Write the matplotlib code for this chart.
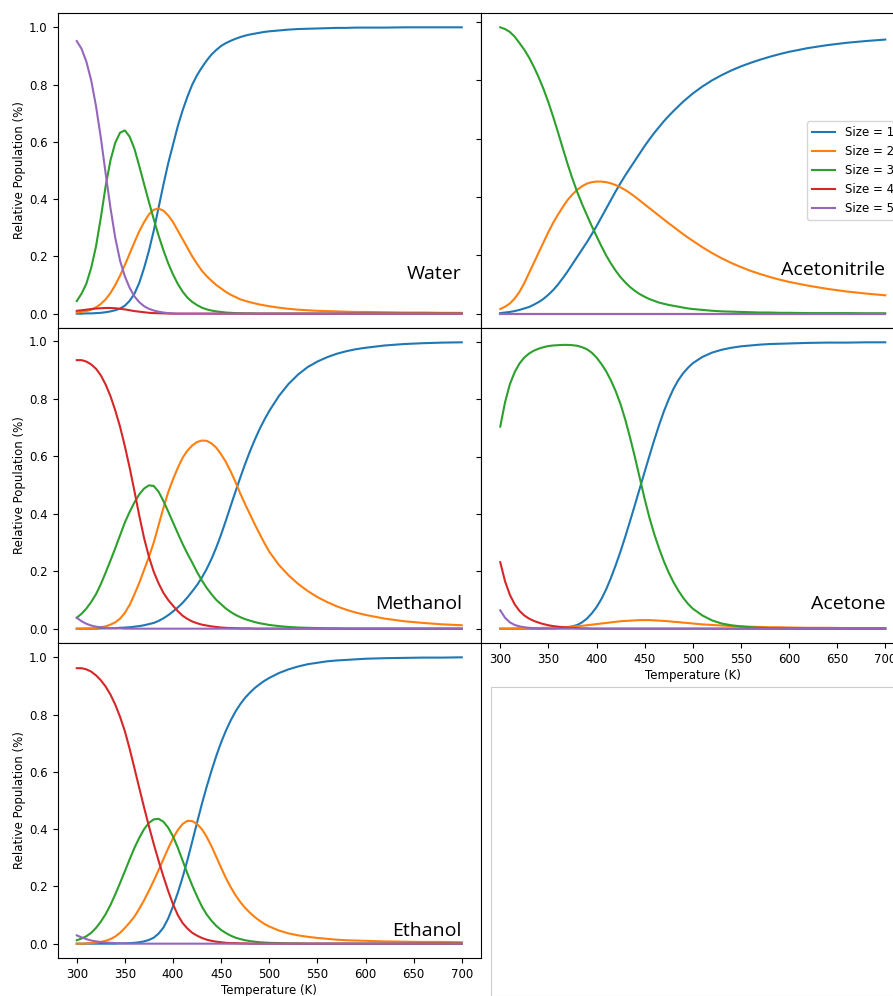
import matplotlib
matplotlib.use("Agg")
import matplotlib.pyplot as plt
from matplotlib.patches import Rectangle

plt.rcParams["font.size"] = 8.5

# Temperature grid (K): 5 K steps to 500 K, then 10 K, then 20 K
temperature = (list(range(300, 501, 5)) + list(range(510, 601, 10))
               + list(range(620, 701, 20)))

size_labels = ["Size = 1", "Size = 2", "Size = 3", "Size = 4", "Size = 5"]

# ---- Water ----
water_s1 = [0.0, 0.0, 0.001, 0.001, 0.002, 0.003, 0.005, 0.008, 0.012, 0.018,
            0.028, 0.045, 0.07, 0.108, 0.16, 0.22, 0.29, 0.37, 0.45, 0.525,
            0.59, 0.655, 0.71, 0.758, 0.80, 0.833, 0.86, 0.884, 0.905, 0.921,
            0.935, 0.945, 0.953, 0.96, 0.966, 0.971, 0.975, 0.978, 0.981, 0.984,
            0.986, 0.989, 0.992, 0.994, 0.995, 0.996, 0.997, 0.998, 0.998, 0.999, 0.999,
            0.999, 1.0, 1.0, 1.0, 1.0]
water_s2 = [0.004, 0.006, 0.009, 0.014, 0.022, 0.034, 0.05, 0.072, 0.10, 0.133,
            0.17, 0.21, 0.25, 0.288, 0.32, 0.347, 0.363, 0.367, 0.36, 0.343,
            0.32, 0.29, 0.26, 0.23, 0.20, 0.174, 0.15, 0.131, 0.115, 0.10,
            0.088, 0.076, 0.066, 0.058, 0.05, 0.045, 0.04, 0.036, 0.032, 0.029,
            0.026, 0.021, 0.017, 0.014, 0.012, 0.010, 0.009, 0.008, 0.007, 0.006, 0.006,
            0.005, 0.004, 0.004, 0.003, 0.003]
water_s3 = [0.044, 0.07, 0.105, 0.16, 0.235, 0.335, 0.445, 0.535, 0.597, 0.632,
            0.64, 0.618, 0.575, 0.515, 0.452, 0.39, 0.33, 0.273, 0.222, 0.176,
            0.137, 0.104, 0.077, 0.056, 0.041, 0.03, 0.021, 0.015, 0.011, 0.008,
            0.006, 0.004, 0.003, 0.002, 0.0015, 0.001, 0.001, 0.0005, 0.0, 0.0] + [0.0] * 16
water_s4 = [0.010, 0.012, 0.014, 0.016, 0.018, 0.019, 0.02, 0.02, 0.019, 0.017,
            0.015, 0.012, 0.009, 0.007, 0.005, 0.003, 0.002, 0.0015, 0.001, 0.0005] + [0.0] * 36
water_s5 = [0.952, 0.925, 0.88, 0.815, 0.725, 0.615, 0.49, 0.37, 0.265, 0.185,
            0.13, 0.09, 0.06, 0.04, 0.026, 0.017, 0.011, 0.007, 0.004, 0.002,
            0.001] + [0.0] * 35

# ---- Acetonitrile ----
acn_s1 = [0.002, 0.004, 0.006, 0.009, 0.013, 0.018, 0.023, 0.031, 0.04, 0.051,
          0.065, 0.081, 0.10, 0.122, 0.145, 0.17, 0.195, 0.22, 0.245, 0.272,
          0.30, 0.33, 0.36, 0.39, 0.42, 0.448, 0.475, 0.50, 0.525, 0.55,
          0.575, 0.598, 0.62, 0.64, 0.66, 0.678, 0.695, 0.711, 0.727, 0.741,
          0.755, 0.779, 0.80, 0.818, 0.834, 0.848, 0.86, 0.871, 0.881, 0.89, 0.898,
          0.911, 0.921, 0.929, 0.935, 0.94]
acn_s2 = [0.016, 0.024, 0.035, 0.052, 0.075, 0.105, 0.14, 0.175, 0.21, 0.245,
          0.28, 0.312, 0.34, 0.366, 0.39, 0.409, 0.425, 0.437, 0.446, 0.451,
          0.453, 0.453, 0.451, 0.447, 0.441, 0.433, 0.424, 0.413, 0.401, 0.388,
          0.375, 0.362, 0.349, 0.336, 0.323, 0.31, 0.298, 0.285, 0.273, 0.261,
          0.25, 0.228, 0.208, 0.19, 0.174, 0.16, 0.147, 0.136, 0.126, 0.117, 0.109,
          0.096, 0.085, 0.076, 0.069, 0.063]
acn_s3 = [0.982, 0.976, 0.966, 0.95, 0.928, 0.905, 0.878, 0.846, 0.81, 0.77,
          0.725, 0.675, 0.622, 0.567, 0.513, 0.463, 0.417, 0.376, 0.338, 0.301,
          0.266, 0.232, 0.20, 0.172, 0.147, 0.125, 0.107, 0.091, 0.078, 0.067,
          0.058, 0.05, 0.044, 0.038, 0.034, 0.03, 0.027, 0.024, 0.021, 0.018,
          0.016, 0.013, 0.010, 0.008, 0.007, 0.006, 0.005, 0.004, 0.004, 0.003, 0.003,
          0.002, 0.002, 0.002, 0.0015, 0.0015]
acn_s4 = [0.0] * 56
acn_s5 = [0.0] * 56

# ---- Methanol ----
meoh_s1 = [0.0, 0.0, 0.0, 0.0, 0.0, 0.001, 0.001, 0.001, 0.002, 0.003,
           0.004, 0.005, 0.007, 0.009, 0.012, 0.016, 0.02, 0.027, 0.036, 0.047,
           0.06, 0.074, 0.09, 0.109, 0.13, 0.152, 0.178, 0.208, 0.243, 0.283,
           0.328, 0.377, 0.428, 0.478, 0.527, 0.574, 0.618, 0.658, 0.695, 0.728,
           0.758, 0.81, 0.852, 0.885, 0.911, 0.93, 0.945, 0.957, 0.966, 0.973, 0.978,
           0.986, 0.991, 0.994, 0.996, 0.997]
meoh_s2 = [0.0, 0.0, 0.001, 0.001, 0.003, 0.005, 0.008, 0.014, 0.022, 0.035,
           0.055, 0.083, 0.12, 0.16, 0.205, 0.25, 0.30, 0.36, 0.42, 0.475,
           0.52, 0.56, 0.595, 0.62, 0.638, 0.65, 0.655, 0.654, 0.645, 0.63,
           0.607, 0.58, 0.547, 0.51, 0.47, 0.433, 0.398, 0.363, 0.33, 0.298,
           0.268, 0.222, 0.186, 0.156, 0.131, 0.11, 0.093, 0.078, 0.066, 0.056, 0.048,
           0.035, 0.026, 0.02, 0.015, 0.012]
meoh_s3 = [0.038, 0.052, 0.07, 0.093, 0.12, 0.155, 0.195, 0.237, 0.28, 0.325,
           0.37, 0.407, 0.44, 0.468, 0.488, 0.499, 0.497, 0.477, 0.445, 0.408,
           0.37, 0.332, 0.295, 0.261, 0.23, 0.197, 0.168, 0.142, 0.12, 0.10,
           0.085, 0.07, 0.058, 0.048, 0.04, 0.033, 0.028, 0.023, 0.019, 0.016,
           0.013, 0.009, 0.006, 0.004, 0.003, 0.002, 0.001, 0.001, 0.0, 0.0, 0.0,
           0.0, 0.0, 0.0, 0.0, 0.0]
meoh_s4 = [0.935, 0.935, 0.93, 0.92, 0.905, 0.882, 0.85, 0.81, 0.76, 0.703,
           0.635, 0.56, 0.478, 0.393, 0.315, 0.25, 0.198, 0.158, 0.125, 0.1,
           0.08, 0.061, 0.045, 0.034, 0.025, 0.019, 0.014, 0.011, 0.008, 0.006,
           0.004, 0.003, 0.002, 0.002, 0.001, 0.001, 0.001] + [0.0] * 19
meoh_s5 = [0.038, 0.026, 0.017, 0.011, 0.007, 0.005, 0.003, 0.002, 0.001, 0.001] + [0.0] * 46

# ---- Acetone ----
acetone_s1 = [0.0] * 10 + [
              0.001, 0.001, 0.002, 0.003, 0.005, 0.008, 0.013, 0.022, 0.035, 0.053,
              0.075, 0.103, 0.137, 0.177, 0.222, 0.27, 0.322, 0.377, 0.433, 0.49,
              0.547, 0.603, 0.658, 0.71, 0.758, 0.80, 0.837, 0.867, 0.891, 0.91,
              0.926, 0.948, 0.963, 0.973, 0.98, 0.985, 0.988, 0.991, 0.993, 0.994, 0.995,
              0.997, 0.998, 0.998, 0.999, 0.999]
acetone_s2 = [0.0, 0.0, 0.0, 0.001, 0.001, 0.001, 0.001, 0.002, 0.002, 0.003,
              0.003, 0.004, 0.004, 0.005, 0.006, 0.007, 0.009, 0.01, 0.012, 0.014,
              0.016, 0.018, 0.02, 0.022, 0.024, 0.026, 0.027, 0.028, 0.029, 0.03,
              0.03, 0.03, 0.029, 0.028, 0.027, 0.026, 0.024, 0.023, 0.021, 0.02,
              0.018, 0.015, 0.013, 0.011, 0.009, 0.008, 0.007, 0.006, 0.005, 0.005, 0.004,
              0.003, 0.003, 0.002, 0.002, 0.002]
acetone_s3 = [0.705, 0.79, 0.853, 0.895, 0.925, 0.946, 0.96, 0.97, 0.977, 0.982,
              0.986, 0.988, 0.989, 0.99, 0.99, 0.989, 0.987, 0.982, 0.975, 0.963,
              0.946, 0.924, 0.898, 0.866, 0.828, 0.783, 0.728, 0.665, 0.597, 0.525,
              0.453, 0.387, 0.33, 0.28, 0.235, 0.196, 0.162, 0.133, 0.108, 0.087,
              0.07, 0.046, 0.029, 0.018, 0.012, 0.008, 0.005, 0.003, 0.002, 0.001, 0.001,
              0.0, 0.0, 0.0, 0.0, 0.0]
acetone_s4 = [0.232, 0.165, 0.118, 0.085, 0.062, 0.046, 0.035, 0.027, 0.021, 0.016,
              0.012, 0.009, 0.007, 0.005, 0.004, 0.003, 0.002, 0.001, 0.001] + [0.0] * 37
acetone_s5 = [0.064, 0.038, 0.022, 0.013, 0.008, 0.005, 0.003, 0.002, 0.001, 0.001] + [0.0] * 46

# ---- Ethanol ----
etoh_s1 = [0.0, 0.0, 0.0, 0.0, 0.0, 0.0, 0.0, 0.0, 0.0, 0.001,
           0.001, 0.002, 0.003, 0.005, 0.008, 0.013, 0.021, 0.035, 0.056, 0.088,
           0.13, 0.178, 0.232, 0.292, 0.357, 0.423, 0.488, 0.548, 0.604, 0.656,
           0.703, 0.744, 0.78, 0.811, 0.837, 0.859, 0.877, 0.893, 0.906, 0.918,
           0.928, 0.945, 0.958, 0.968, 0.976, 0.981, 0.986, 0.989, 0.991, 0.993, 0.995,
           0.997, 0.998, 0.999, 0.999, 1.0]
etoh_s2 = [0.0, 0.0, 0.001, 0.002, 0.004, 0.006, 0.01, 0.016, 0.025, 0.038,
           0.055, 0.074, 0.095, 0.122, 0.152, 0.185, 0.22, 0.257, 0.295, 0.333,
           0.368, 0.397, 0.418, 0.429, 0.428, 0.418, 0.40, 0.373, 0.34, 0.303,
           0.265, 0.229, 0.197, 0.169, 0.145, 0.125, 0.108, 0.093, 0.08, 0.069,
           0.06, 0.046, 0.036, 0.029, 0.024, 0.02, 0.017, 0.014, 0.012, 0.011, 0.01,
           0.008, 0.007, 0.006, 0.006, 0.005]
etoh_s3 = [0.012, 0.018, 0.026, 0.038, 0.055, 0.077, 0.103, 0.135, 0.172, 0.212,
           0.253, 0.295, 0.335, 0.37, 0.40, 0.422, 0.434, 0.436, 0.426, 0.405,
           0.375, 0.335, 0.29, 0.245, 0.203, 0.165, 0.13, 0.102, 0.08, 0.062,
           0.048, 0.037, 0.028, 0.021, 0.016, 0.012, 0.009, 0.007, 0.005, 0.004,
           0.003, 0.002, 0.001, 0.001] + [0.0] * 12
etoh_s4 = [0.962, 0.962, 0.958, 0.95, 0.937, 0.92, 0.898, 0.87, 0.835, 0.792,
           0.742, 0.68, 0.612, 0.543, 0.475, 0.41, 0.348, 0.29, 0.235, 0.184,
           0.138, 0.1, 0.072, 0.053, 0.038, 0.028, 0.02, 0.014, 0.01, 0.007,
           0.005, 0.003, 0.002, 0.002, 0.001, 0.001] + [0.0] * 20
etoh_s5 = [0.029, 0.022, 0.016, 0.011, 0.008, 0.006, 0.004, 0.003, 0.002, 0.001,
           0.001] + [0.0] * 45

solvents = ["Water", "Acetonitrile", "Methanol", "Acetone", "Ethanol"]
populations = {
    "Water": [water_s1, water_s2, water_s3, water_s4, water_s5],
    "Acetonitrile": [acn_s1, acn_s2, acn_s3, acn_s4, acn_s5],
    "Methanol": [meoh_s1, meoh_s2, meoh_s3, meoh_s4, meoh_s5],
    "Acetone": [acetone_s1, acetone_s2, acetone_s3, acetone_s4, acetone_s5],
    "Ethanol": [etoh_s1, etoh_s2, etoh_s3, etoh_s4, etoh_s5],
}
# solvent-name label heights (data units, baseline)
label_y = {"Water": 0.122, "Acetonitrile": 0.134, "Methanol": 0.067,
           "Acetone": 0.067, "Ethanol": 0.027}

W, H = 893, 996
fig = plt.figure(figsize=(W / 100, H / 100), dpi=100)

col_left = [57.5, 481.0]
col_w = 423.5
row_top = [13.0, 328.0, 643.0]
row_h = 315.0


def add_panel(row, col, sharex=None):
    x0 = col_left[col] / W
    y0 = 1 - (row_top[row] + row_h) / H
    return fig.add_axes([x0, y0, col_w / W, row_h / H], sharex=sharex)


ax_water = add_panel(0, 0)
ax_acn = add_panel(0, 1, sharex=ax_water)
ax_meoh = add_panel(1, 0, sharex=ax_water)
ax_acetone = add_panel(1, 1, sharex=ax_water)
ax_etoh = add_panel(2, 0, sharex=ax_water)
axes = {"Water": ax_water, "Acetonitrile": ax_acn, "Methanol": ax_meoh,
        "Acetone": ax_acetone, "Ethanol": ax_etoh}

colors = plt.rcParams["axes.prop_cycle"].by_key()["color"][:5]

for name in solvents:
    ax = axes[name]
    for series, lab, c in zip(populations[name], size_labels, colors):
        ax.plot(temperature, series, color=c, lw=1.5, label=lab)
    ax.text(700, label_y[name], name, ha="right", va="baseline",
            fontsize=14, family=["Open Sans", "DejaVu Sans"])

for ax in (ax_water, ax_meoh, ax_etoh):
    ax.set_ylabel("Relative Population (%)", labelpad=2.5)
for ax in (ax_acn, ax_acetone):
    ax.tick_params(labelleft=False)
for ax in (ax_water, ax_acn, ax_meoh):
    ax.tick_params(labelbottom=False)
for ax in (ax_etoh, ax_acetone):
    ax.set_xlabel("Temperature (K)", labelpad=2)

ax_acn.legend(loc="center right")

# empty frame in the unused lower-right slot
fig.patches.append(Rectangle((491 / W, 0), 1.0, 1 - 687 / H,
                             transform=fig.transFigure, fill=False,
                             edgecolor="0.8", lw=0.8))

fig.savefig("out.png", dpi=100)
